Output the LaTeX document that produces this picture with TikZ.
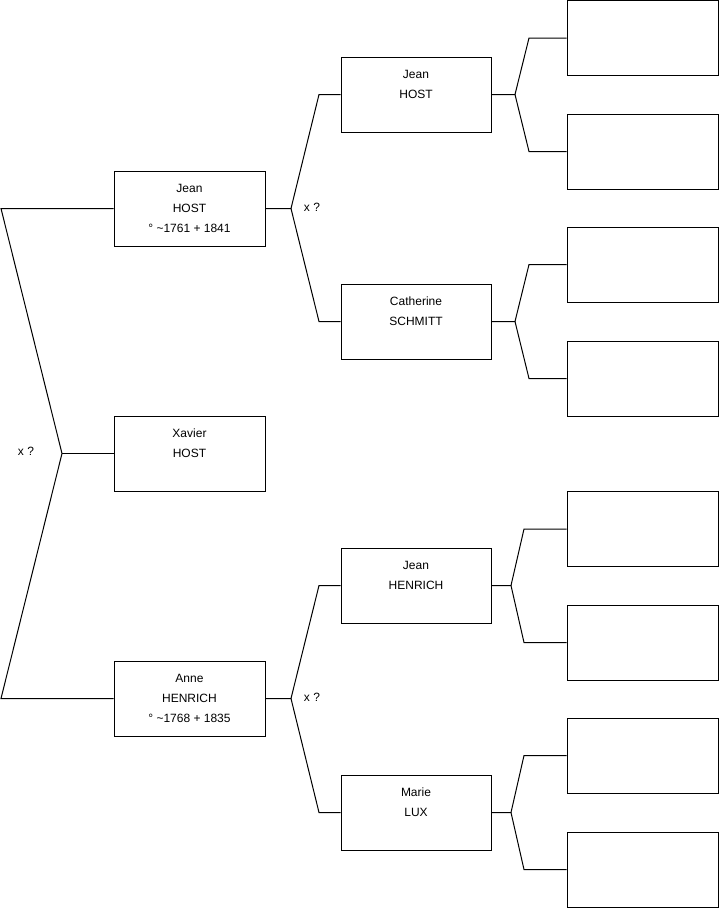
\documentclass[tikz,border=0pt]{standalone}
\usepackage{fontspec}
\setmainfont{Liberation Sans}
\begin{document}
\begin{tikzpicture}[x=1pt,y=-1pt,
  pbox/.style={draw=black,line width=1pt,minimum height=75pt,inner sep=0pt,align=center,
    font=\fontsize{12}{20}\selectfont},
  wa/.style={pbox,minimum width=151pt},
  wb/.style={pbox,minimum width=150pt},
  conn/.style={draw=black,line width=1pt},
  lbl/.style={font=\fontsize{12}{14}\selectfont,inner sep=0pt}]
\useasboundingbox (0,0) rectangle (719,908);
% generation 1
\node[wa] (jh) at (189.5,208.5) {Jean\\HOST\\° \textasciitilde1761 + 1841};
\node[wa] (xh) at (189.5,453.5) {Xavier\\HOST\\\mbox{}};
\node[wa] (ah) at (189.5,698.5) {Anne\\HENRICH\\° \textasciitilde1768 + 1835};
% generation 2
\node[wb] (pj) at (416,94.5) {Jean\\HOST\\\mbox{}};
\node[wb] (pc) at (416,321.5) {Catherine\\SCHMITT\\\mbox{}};
\node[wb] (mj) at (416,585.5) {Jean\\HENRICH\\\mbox{}};
\node[wb] (mm) at (416,812.5) {Marie\\LUX\\\mbox{}};
% generation 3
\node[wa] (g1) at (642.5,38) {};
\node[wa] (g2) at (642.5,151.5) {};
\node[wa] (g3) at (642.5,264.5) {};
\node[wa] (g4) at (642.5,378.5) {};
\node[wa] (g5) at (642.5,529) {};
\node[wa] (g6) at (642.5,642.5) {};
\node[wa] (g7) at (642.5,755.5) {};
\node[wa] (g8) at (642.5,869.5) {};
% left bracket
\coordinate (L1) at (1,208.5);
\coordinate (LM) at (62,453.5);
\coordinate (L2) at (1,698.5);
\draw[conn] (jh.west) -- (L1) -- (LM) -- (L2) -- (ah.west);
\draw[conn] (LM) -- (xh.west);
\node[lbl] (x0) at (26,451) {x ?};
% gen1 -> gen2
\coordinate (B1) at (291,208.5);
\coordinate (B1a) at (319,94.5);
\coordinate (B1b) at (319,321.5);
\draw[conn] (jh.east) -- (B1) -- (B1a) -- (pj.west);
\draw[conn] (B1) -- (B1b) -- (pc.west);
\node[lbl] (x1) at (312,207) {x ?};
\coordinate (B2) at (291,698.5);
\coordinate (B2a) at (319,585.5);
\coordinate (B2b) at (319,812.5);
\draw[conn] (ah.east) -- (B2) -- (B2a) -- (mj.west);
\draw[conn] (B2) -- (B2b) -- (mm.west);
\node[lbl] (x2) at (312,697) {x ?};
% gen2 -> gen3
\coordinate (C1) at (515,94.5);
\draw[conn] (pj.east) -- (C1) -- (529,38) -- (g1.west);
\draw[conn] (C1) -- (529,151.5) -- (g2.west);
\coordinate (C2) at (515,321.5);
\draw[conn] (pc.east) -- (C2) -- (529,264.5) -- (g3.west);
\draw[conn] (C2) -- (529,378.5) -- (g4.west);
\coordinate (C3) at (511,585.5);
\draw[conn] (mj.east) -- (C3) -- (524,529) -- (g5.west);
\draw[conn] (C3) -- (524,642.5) -- (g6.west);
\coordinate (C4) at (511,812.5);
\draw[conn] (mm.east) -- (C4) -- (524,755.5) -- (g7.west);
\draw[conn] (C4) -- (524,869.5) -- (g8.west);
\end{tikzpicture}
\end{document}
